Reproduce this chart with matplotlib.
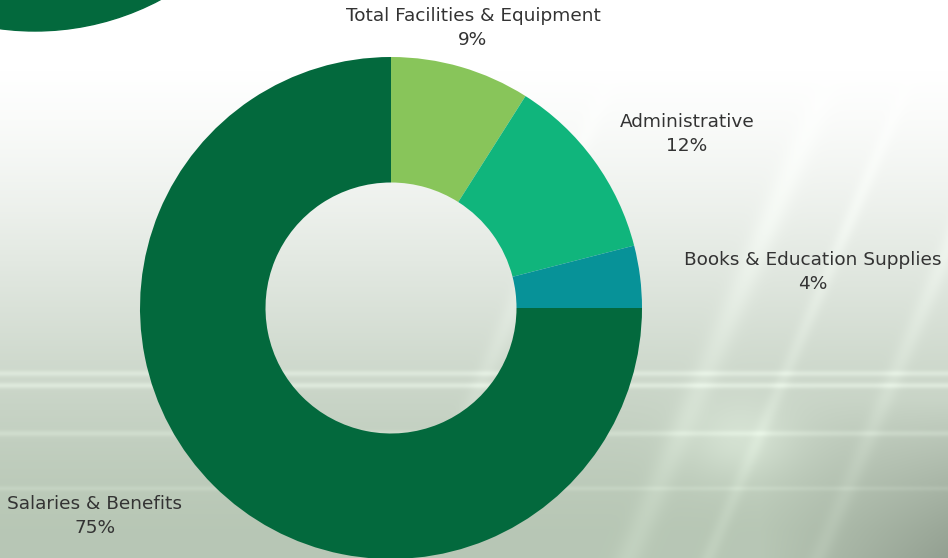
import numpy as np
import matplotlib.pyplot as plt
from matplotlib.patches import Circle

# expense shares, in drawing order (clockwise from 12 o'clock)
categories = ["Total Facilities & Equipment", "Administrative",
              "Books & Education Supplies", "Salaries & Benefits"]
shares = [9, 12, 4, 75]
colors = ["#88c55a", "#10b57c", "#079298", "#03693d"]

W, H = 948, 558
fig = plt.figure(figsize=(W / 100, H / 100), dpi=100)
ax = fig.add_axes([0, 0, 1, 1])

# background: white top fading into a pale green, with light streaks
# (rows counted from the top of the picture)
yy, xx = np.mgrid[0:H, 0:W].astype(float)
t = np.clip((yy - 70) / 460, 0, 1)
t = t * t * (3 - 2 * t) * 0.5 + t * 0.5
top = np.array([1.0, 1.0, 1.0])
low = np.array([0.72, 0.78, 0.71])
bg = top + (low - top) * t[..., None]
# darker corner bottom right
d = np.clip((xx - 760) / 190, 0, 1) * np.clip((yy - 400) / 158, 0, 1)
bg = bg * (1 - 0.2 * d[..., None])
# horizontal streaks
for yc, amp, wd in [(373, 0.06, 3), (385, 0.07, 3), (433, 0.05, 3), (488, 0.035, 2.5)]:
    s = amp * np.exp(-((yy - yc) / wd) ** 2)
    bg = bg + s[..., None]
# diagonal streaks
for x0, amp, wd in [(820, 0.04, 14), (900, 0.035, 8), (600, 0.03, 10), (1010, 0.035, 10)]:
    u = xx - (x0 - (yy - 100) * 0.42)
    s = amp * np.exp(-(u / wd) ** 2) * np.clip((yy - 80) / 150, 0, 1)
    bg = bg + s[..., None]
# glow near the crossing
g = 0.07 * np.exp(-(((xx - 740) / 55) ** 2 + ((yy - 440) / 40) ** 2))
bg = np.clip(bg + g[..., None], 0, 1)
ax.imshow(bg, extent=[0, W, 0, H], origin="upper", zorder=0,
          interpolation="bilinear", aspect="auto")

# decorative circle top left
ax.add_patch(Circle((35, H + 236), 267, color="#03693d", zorder=1))

cx, cy, r = 391, 308, 251
ax.pie(shares, colors=colors, startangle=90, counterclock=False,
       center=(cx, H - cy), radius=r, frame=True,
       wedgeprops=dict(width=r * 0.5, linewidth=0))

ax.set_xlim(0, W)
ax.set_ylim(0, H)
ax.set_aspect("auto")
ax.axis("off")

label_pos = [(473, 28), (687, 134), (813, 272), (95, 516)]
for name, val, (x, y) in zip(categories, shares, label_pos):
    ax.text(x, H - y, f"{name}\n{val}%", ha="center", va="center",
            fontsize=13.3, color="#333333", linespacing=1.36,
            family=["DejaVu Sans"], zorder=5)

fig.savefig("out.png", dpi=100)
